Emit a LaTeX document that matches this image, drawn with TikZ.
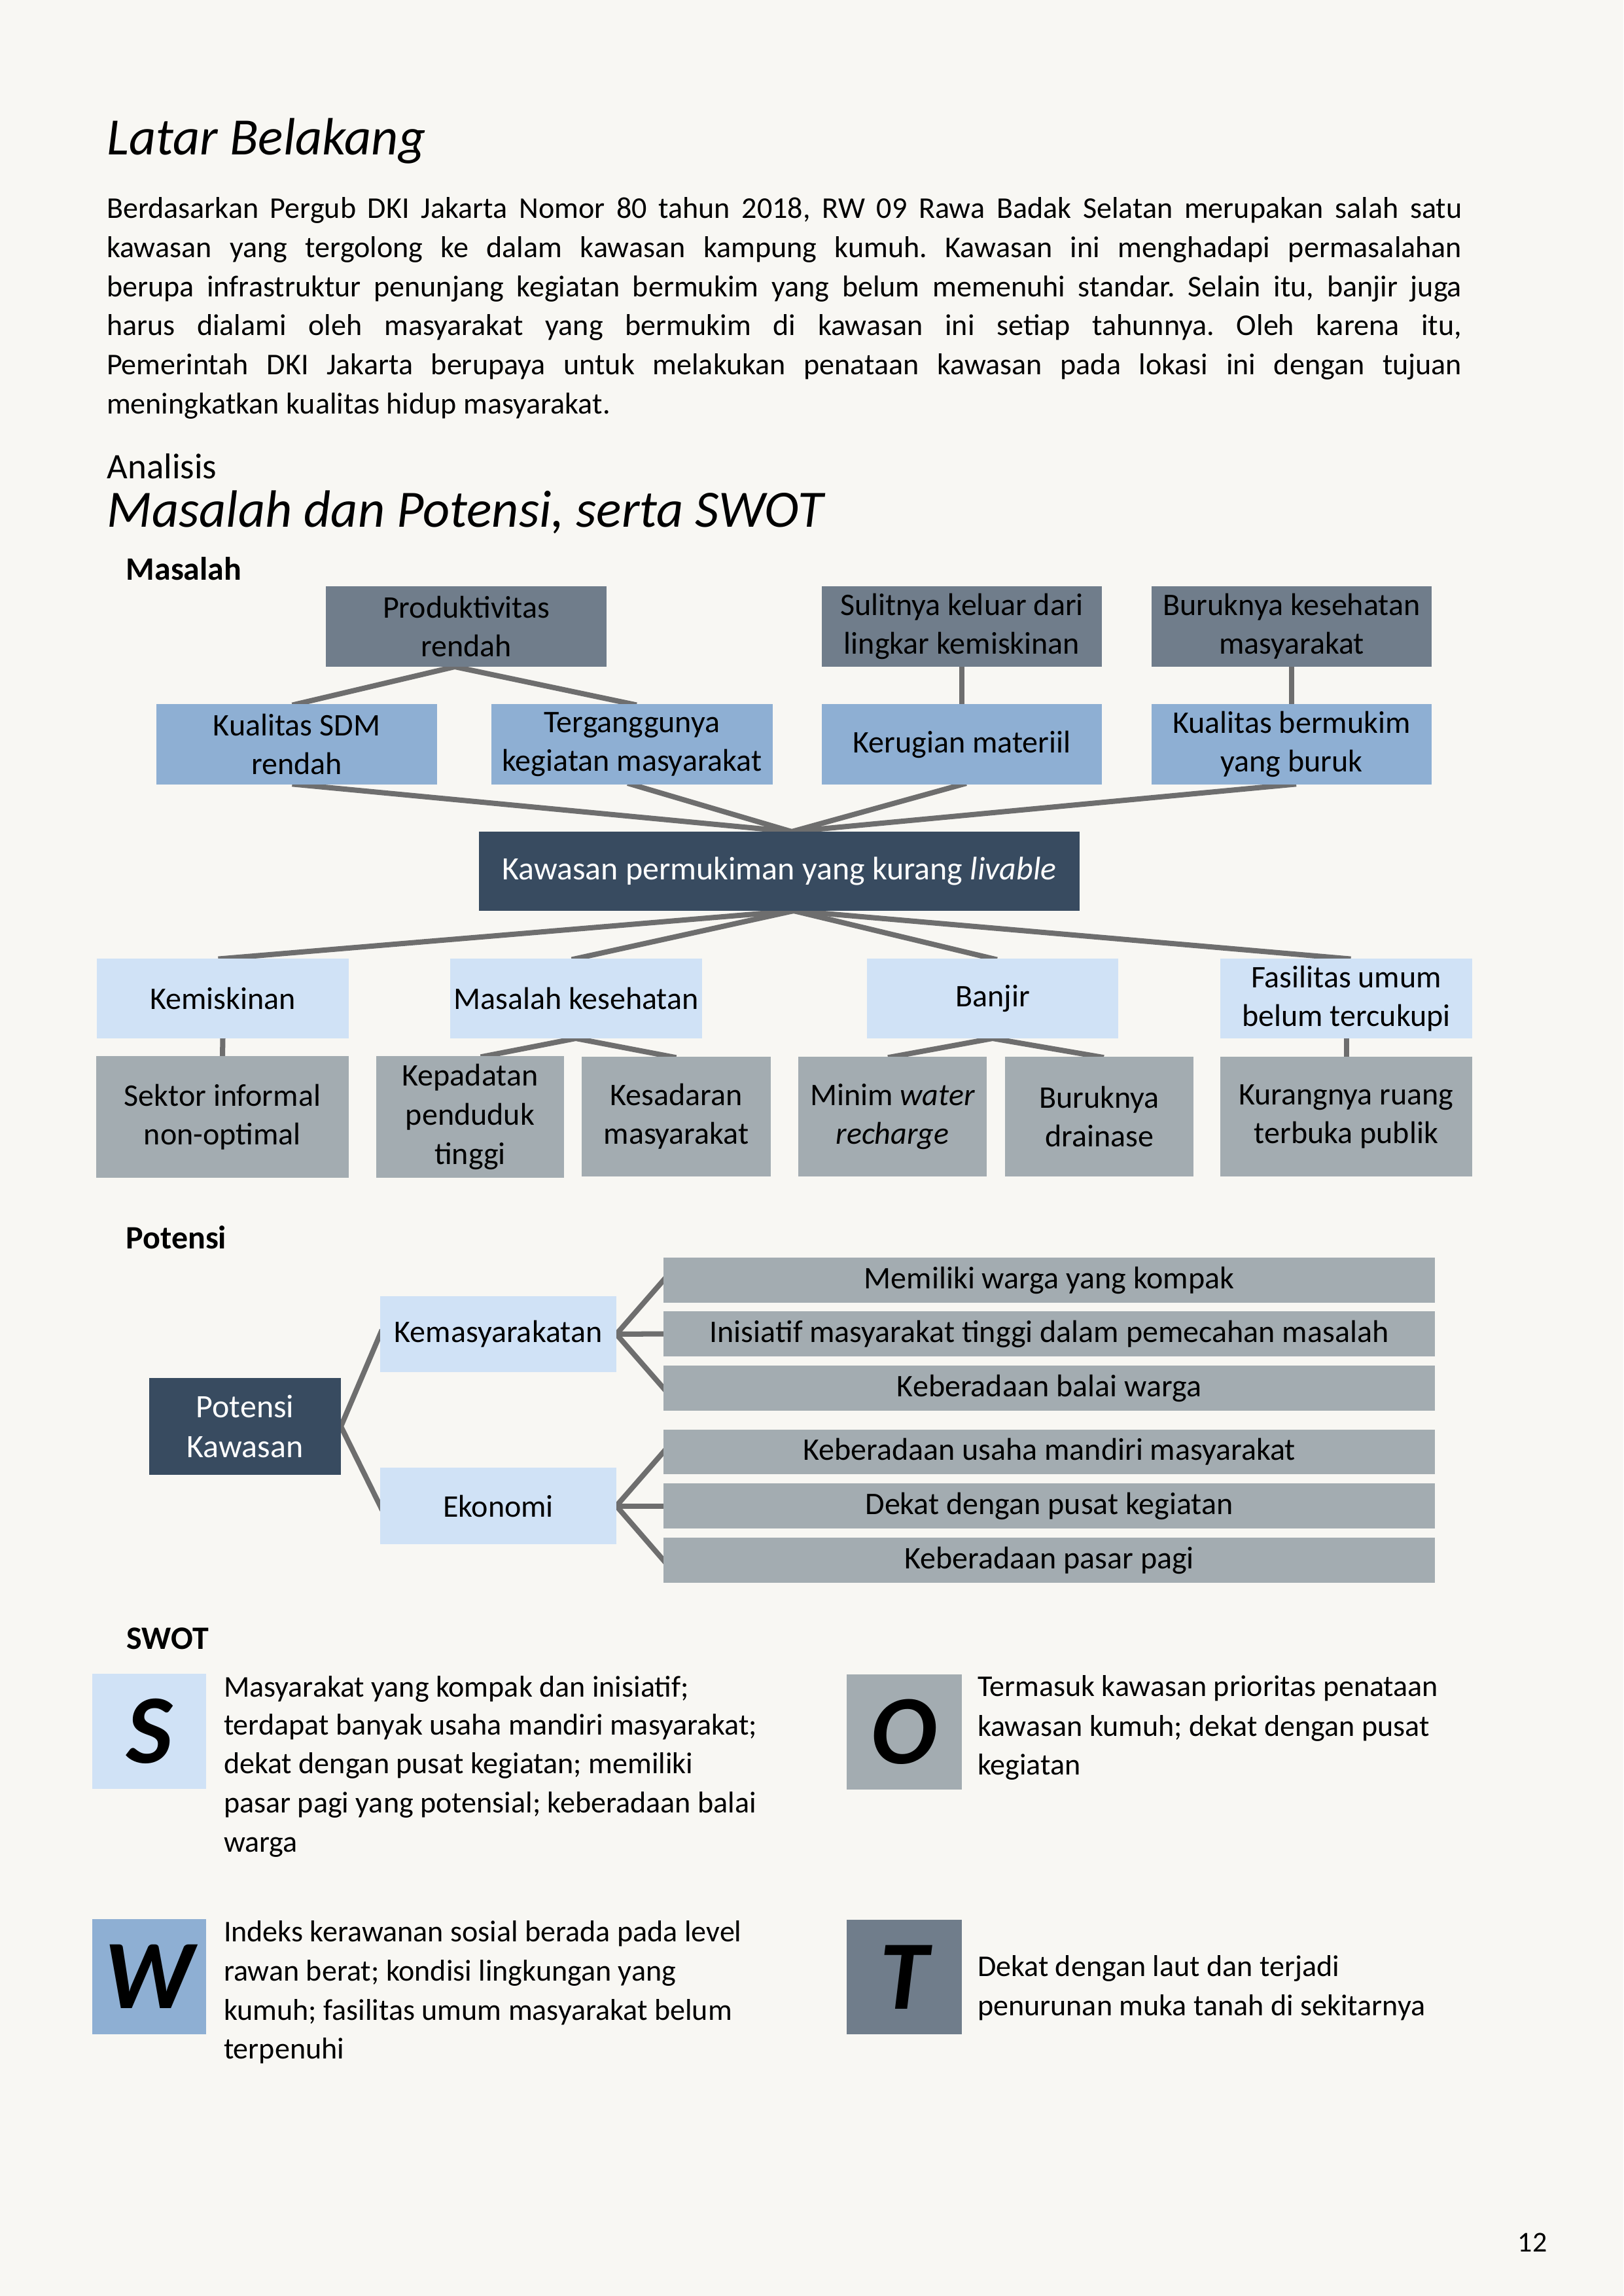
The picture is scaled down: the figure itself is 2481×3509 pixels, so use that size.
\documentclass[tikz,border=0pt]{standalone}
\usepackage{fontspec}
\setmainfont{Carlito}
\frenchspacing
\definecolor{pagec}{HTML}{F8F7F3}
\definecolor{topc}{HTML}{707D8B}
\definecolor{midc}{HTML}{8EAFD3}
\definecolor{lightc}{HTML}{D0E2F6}
\definecolor{grayc}{HTML}{A3ACB1}
\definecolor{darkc}{HTML}{384B60}
\definecolor{linec}{HTML}{6E6E6E}
\newcommand{\fBody}{\fontsize{13.1}{16.9}\selectfont}
\newcommand{\fBox}{\fontsize{13.66}{16.8}\selectfont}
\newcommand{\fBoxT}{\fontsize{13.66}{17.1}\selectfont}
\newcommand{\fDark}{\fontsize{14.2}{17.1}\selectfont}
\newcommand{\fHead}{\fontsize{22.8}{26}\selectfont\itshape}
\newcommand{\fAna}{\fontsize{15.6}{18}\selectfont}
\newcommand{\fLab}{\fontsize{14.2}{17}\selectfont\bfseries}
\newcommand{\fLet}{\fontsize{42.7}{44}\selectfont\bfseries\itshape}
\newcommand{\fNum}{\fontsize{12.5}{14}\selectfont}
\newcommand{\bx}[7]{\node[#2, minimum width={(#5-#3)*0.01cm}, minimum height={(#6-#4)*0.01cm}] (#1) at ({(#3+#5)/2},{(#4+#6)/2}) {#7};}
\newcommand{\jl}[1]{\makebox[589pt][s]{#1}}
\pgfdeclarelayer{pagelayer}
\pgfdeclarelayer{linelayer}
\pgfsetlayers{pagelayer,linelayer,main}
\tikzset{
  boxbase/.style={inner sep=0pt, outer sep=0pt, align=center, font=\fBox, text=black},
  topbox/.style={boxbase, fill=topc},
  midbox/.style={boxbase, fill=midc},
  lightbox/.style={boxbase, fill=lightc},
  graybox/.style={boxbase, fill=grayc},
  darkbox/.style={boxbase, fill=darkc, text=white, font=\fDark},
  letterbox/.style={boxbase, font=\fLet},
  conn/.style={draw=linec, line width=2.28pt, line join=miter, shorten <=-2pt, shorten >=-2pt},
  ptext/.style={anchor=base west, inner sep=0pt, outer sep=0pt, font=\fBody},
}
\begin{document}
\begin{tikzpicture}[x=0.01cm, y=-0.01cm]
\useasboundingbox (0,0) rectangle (2481,3509);
\begin{pgfonlayer}{pagelayer}
\fill[pagec] (0,0) rectangle (2481,3509);
\end{pgfonlayer}

% ---------- Latar Belakang ----------
\node[anchor=base west, inner sep=0pt, font=\fHead] (title) at (163,236) {Latar Belakang};
\node[ptext] (l1) at (163,333) {\jl{Berdasarkan Pergub DKI Jakarta Nomor 80 tahun 2018, RW 09 Rawa Badak Selatan merupakan salah satu}};
\node[ptext] (l2) at (163,393) {\jl{kawasan yang tergolong ke dalam kawasan kampung kumuh. Kawasan ini menghadapi permasalahan}};
\node[ptext] (l3) at (163,453) {\jl{berupa infrastruktur penunjang kegiatan bermukim yang belum memenuhi standar. Selain itu, banjir juga}};
\node[ptext] (l4) at (163,512) {\jl{harus dialami oleh masyarakat yang bermukim di kawasan ini setiap tahunnya. Oleh karena itu,}};
\node[ptext] (l5) at (163,572) {\jl{Pemerintah DKI Jakarta berupaya untuk melakukan penataan kawasan pada lokasi ini dengan tujuan}};
\node[ptext] (l6) at (163,632) {meningkatkan kualitas hidup masyarakat.};

\node[anchor=base west, inner sep=0pt, font=\fAna, text depth=0pt] (ana) at (163,731) {Analisis};
\node[anchor=base west, inner sep=0pt, font=\fHead, text height=0.62em] (sub) at (163,805) {Masalah dan Potensi, serta SWOT};

% ---------- Masalah ----------
\node[anchor=base west, inner sep=0pt, font=\fLab] (labm) at (192,886) {Masalah};

\bx{prod}{topbox}{498}{896}{927}{1019}{Produktivitas\\rendah}
\bx{sulit}{topbox}{1256}{896}{1684}{1019}{Sulitnya keluar dari\\lingkar kemiskinan}
\bx{buruk}{topbox}{1760}{896}{2188}{1019}{Buruknya kesehatan\\masyarakat}

\bx{ksdm}{midbox}{239}{1076}{668}{1199}{Kualitas SDM\\rendah}
\bx{terg}{midbox}{751}{1076}{1181}{1199}{Terganggunya\\kegiatan masyarakat}
\bx{rugi}{midbox}{1256}{1076}{1684}{1199}{Kerugian materiil}
\bx{kbm}{midbox}{1760}{1076}{2188}{1199}{Kualitas bermukim\\yang buruk}

\bx{kaw}{darkbox}{732}{1271}{1650}{1392}{Kawasan permukiman yang kurang \textit{livable}}

\bx{miskin}{lightbox}{148}{1465}{533}{1587}{Kemiskinan}
\bx{sehat}{lightbox}{688}{1465}{1073}{1587}{Masalah kesehatan}
\bx{banjir}{lightbox}{1325}{1465}{1709}{1587}{Banjir}
\bx{fasum}{lightbox}{1865}{1465}{2250}{1587}{Fasilitas umum\\belum tercukupi}

\bx{sektor}{graybox}{147}{1614}{533}{1800}{Sektor informal\\non-optimal}
\bx{padat}{graybox, font=\fBoxT}{575}{1614}{862}{1800}{Kepadatan\\penduduk\\tinggi}
\bx{sadar}{graybox}{889}{1615}{1178}{1798}{Kesadaran\\masyarakat}
\bx{minim}{graybox}{1220}{1615}{1508}{1798}{Minim \textit{water}\\\textit{recharge}}
\bx{drain}{graybox}{1536}{1615}{1824}{1798}{Buruknya\\drainase}
\bx{ruang}{graybox}{1865}{1615}{2250}{1798}{Kurangnya ruang\\terbuka publik}

\coordinate (pA) at (695,1019);
\coordinate (kA) at (1210,1271);
\coordinate (kB) at (1213,1392);
\coordinate (sA) at (880,1587);
\coordinate (bA) at (1517,1587);

% ---------- Potensi ----------
\node[anchor=base west, inner sep=0pt, font=\fLab] (labp) at (192,1908) {Potensi};

\bx{pot}{darkbox}{228}{2106}{521}{2254}{Potensi\\Kawasan}
\bx{kem}{lightbox}{581}{1981}{942}{2097}{Kemasyarakatan}
\bx{eko}{lightbox}{581}{2243}{942}{2360}{Ekonomi}

\bx{b1}{graybox}{1014}{1922}{2193}{1991}{Memiliki warga yang kompak}
\bx{b2}{graybox}{1014}{2004}{2193}{2073}{Inisiatif masyarakat tinggi dalam pemecahan masalah}
\bx{b3}{graybox}{1014}{2087}{2193}{2156}{Keberadaan balai warga}
\bx{b4}{graybox}{1014}{2185}{2193}{2253}{Keberadaan usaha mandiri masyarakat}
\bx{b5}{graybox}{1014}{2267}{2193}{2336}{Dekat dengan pusat kegiatan}
\bx{b6}{graybox}{1014}{2350}{2193}{2419}{Keberadaan pasar pagi}

% ---------- SWOT ----------
\node[anchor=base west, inner sep=0pt, font=\fLab] (labs) at (193,2520) {SWOT};

\bx{sS}{letterbox, fill=lightc}{141}{2558}{315}{2734}{S}
\bx{sW}{letterbox, fill=midc}{141}{2933}{315}{3109}{W}
\bx{sO}{letterbox, fill=grayc}{1294}{2559}{1470}{2735}{O}
\bx{sT}{letterbox, fill=topc}{1294}{2934}{1470}{3109}{T}

\node[ptext] (s1) at (342,2593) {Masyarakat yang kompak dan inisiatif;};
\node[ptext] (s2) at (342,2651) {terdapat banyak usaha mandiri masyarakat;};
\node[ptext] (s3) at (342,2710) {dekat dengan pusat kegiatan; memiliki};
\node[ptext] (s4) at (342,2770) {pasar pagi yang potensial; keberadaan balai};
\node[ptext] (s5) at (342,2830) {warga};

\node[ptext] (w1) at (342,2967) {Indeks kerawanan sosial berada pada level};
\node[ptext] (w2) at (342,3027) {rawan berat; kondisi lingkungan yang};
\node[ptext] (w3) at (342,3087) {kumuh; fasilitas umum masyarakat belum};
\node[ptext] (w4) at (342,3146) {terpenuhi};

\node[ptext] (o1) at (1494,2592) {Termasuk kawasan prioritas penataan};
\node[ptext] (o2) at (1494,2653) {kawasan kumuh; dekat dengan pusat};
\node[ptext] (o3) at (1494,2712) {kegiatan};

\node[ptext] (t1) at (1494,3020) {Dekat dengan laut dan terjadi};
\node[ptext] (t2) at (1494,3080) {penurunan muka tanah di sekitarnya};

\node[anchor=base, inner sep=0pt, font=\fNum] (pnum) at (2342,3441) {12};

% ---------- connectors ----------
\begin{pgfonlayer}{linelayer}
\draw[conn] (ksdm.north) -- (pA) -- (terg.north);
\draw[conn] (sulit.south) -- (rugi.north);
\draw[conn] (buruk.south) -- (kbm.north);
\draw[conn] (ksdm.south) -- (kA) -- (kbm.south);
\draw[conn] (terg.south) -- (kA) -- (rugi.south);
\draw[conn] (miskin.north) -- (kB) -- (fasum.north);
\draw[conn] (sehat.north) -- (kB) -- (banjir.north);
\draw[conn] (miskin.south) -- (sektor.north);
\draw[conn] ([xshift=0.23cm]padat.north) -- (sA) -- ([xshift=-0.07cm]sadar.north);
\draw[conn] (minim.north) -- (bA) -- (drain.north);
\draw[conn] (fasum.south) -- (ruang.north);
\draw[conn] (kem.west) -- (pot.east) -- (eko.west);
\draw[conn] (b1.west) -- (kem.east) -- (b3.west);
\draw[conn] (kem.east) -- (b2.west);
\draw[conn] (b4.west) -- (eko.east) -- (b6.west);
\draw[conn] (eko.east) -- (b5.west);
\end{pgfonlayer}
\end{tikzpicture}
\end{document}
